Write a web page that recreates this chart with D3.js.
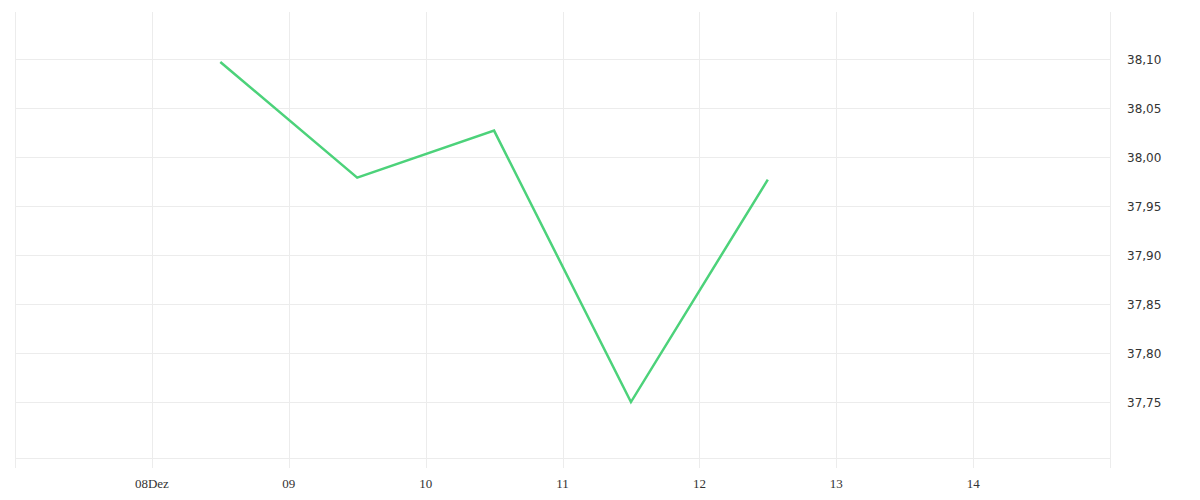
<!DOCTYPE html>
<html>
<head>
<meta charset="utf-8">
<script src="https://cdn.jsdelivr.net/npm/d3@7"></script>
<style>
  html, body { margin: 0; padding: 0; background: #fff; }
  svg { display: block; }
</style>
</head>
<body>
<svg id="chart" width="1200" height="500"></svg>
<script>
const dates = ["2023-12-08T12:00", "2023-12-09T12:00", "2023-12-10T12:00", "2023-12-11T12:00", "2023-12-12T12:00"];
const values = [38.097, 37.979, 38.027, 37.750, 37.977];
const xTickDates = ["2023-12-08", "2023-12-09", "2023-12-10", "2023-12-11", "2023-12-12", "2023-12-13", "2023-12-14"];
const xTickLabels = ["08Dez", "09", "10", "11", "12", "13", "14"];
const yTicks = [37.75, 37.80, 37.85, 37.90, 37.95, 38.00, 38.05, 38.10];
const yTickLabels = ["37,75", "37,80", "37,85", "37,90", "37,95", "38,00", "38,05", "38,10"];

(function () {
const parse = d3.timeParse("%Y-%m-%dT%H:%M");
const parseDay = d3.timeParse("%Y-%m-%d");

const mLeft = 15, mRight = 1110, mTop = 12, mBottom = 458;
const svg = d3.select("#chart");

const x = d3.scaleTime()
  .domain([parseDay("2023-12-07"), parseDay("2023-12-15")])
  .range([mLeft, mRight]);
const y = d3.scaleLinear()
  .domain([37.6929, 38.148])
  .range([mBottom, mTop]);

const grid = "#ececec";

svg.append("g").selectAll("line").data(yTicks).join("line")
  .attr("x1", mLeft).attr("x2", mRight)
  .attr("y1", d => Math.round(y(d)) + 0.5).attr("y2", d => Math.round(y(d)) + 0.5)
  .attr("stroke", grid).attr("stroke-width", 1);

const xTicks = xTickDates.map(parseDay);
svg.append("g").selectAll("line").data(xTicks).join("line")
  .attr("x1", d => Math.round(x(d)) + 0.5).attr("x2", d => Math.round(x(d)) + 0.5)
  .attr("y1", mTop).attr("y2", mBottom + 10)
  .attr("stroke", grid).attr("stroke-width", 1);

svg.append("line").attr("x1", mLeft + 0.5).attr("x2", mLeft + 0.5).attr("y1", mTop).attr("y2", mBottom + 10)
  .attr("stroke", grid);
svg.append("line").attr("x1", mRight + 0.5).attr("x2", mRight + 0.5).attr("y1", mTop).attr("y2", mBottom + 10)
  .attr("stroke", grid);
svg.append("line").attr("x1", mLeft).attr("x2", mRight).attr("y1", mBottom + 0.5).attr("y2", mBottom + 0.5)
  .attr("stroke", grid);

svg.append("g").selectAll("text").data(xTicks).join("text")
  .attr("x", d => x(d)).attr("y", 488)
  .attr("text-anchor", "middle")
  .attr("font-family", "Liberation Serif, serif")
  .attr("font-size", 13)
  .attr("fill", "#333")
  .text((d, i) => xTickLabels[i]);

svg.append("g").selectAll("text").data(yTicks).join("text")
  .attr("x", 1127).attr("y", d => y(d) + 5)
  .attr("text-anchor", "start")
  .attr("font-family", "DejaVu Sans, sans-serif")
  .attr("font-size", 12)
  .attr("fill", "#333")
  .text((d, i) => yTickLabels[i]);

const pts = dates.map((d, i) => ({ t: parse(d), v: values[i] }));
svg.append("path")
  .datum(pts)
  .attr("fill", "none")
  .attr("stroke", "#4cd27a")
  .attr("stroke-width", 2.5)
  .attr("stroke-linejoin", "miter")
  .attr("d", d3.line().x(d => x(d.t)).y(d => y(d.v)));
})();
</script>
</body>
</html>
